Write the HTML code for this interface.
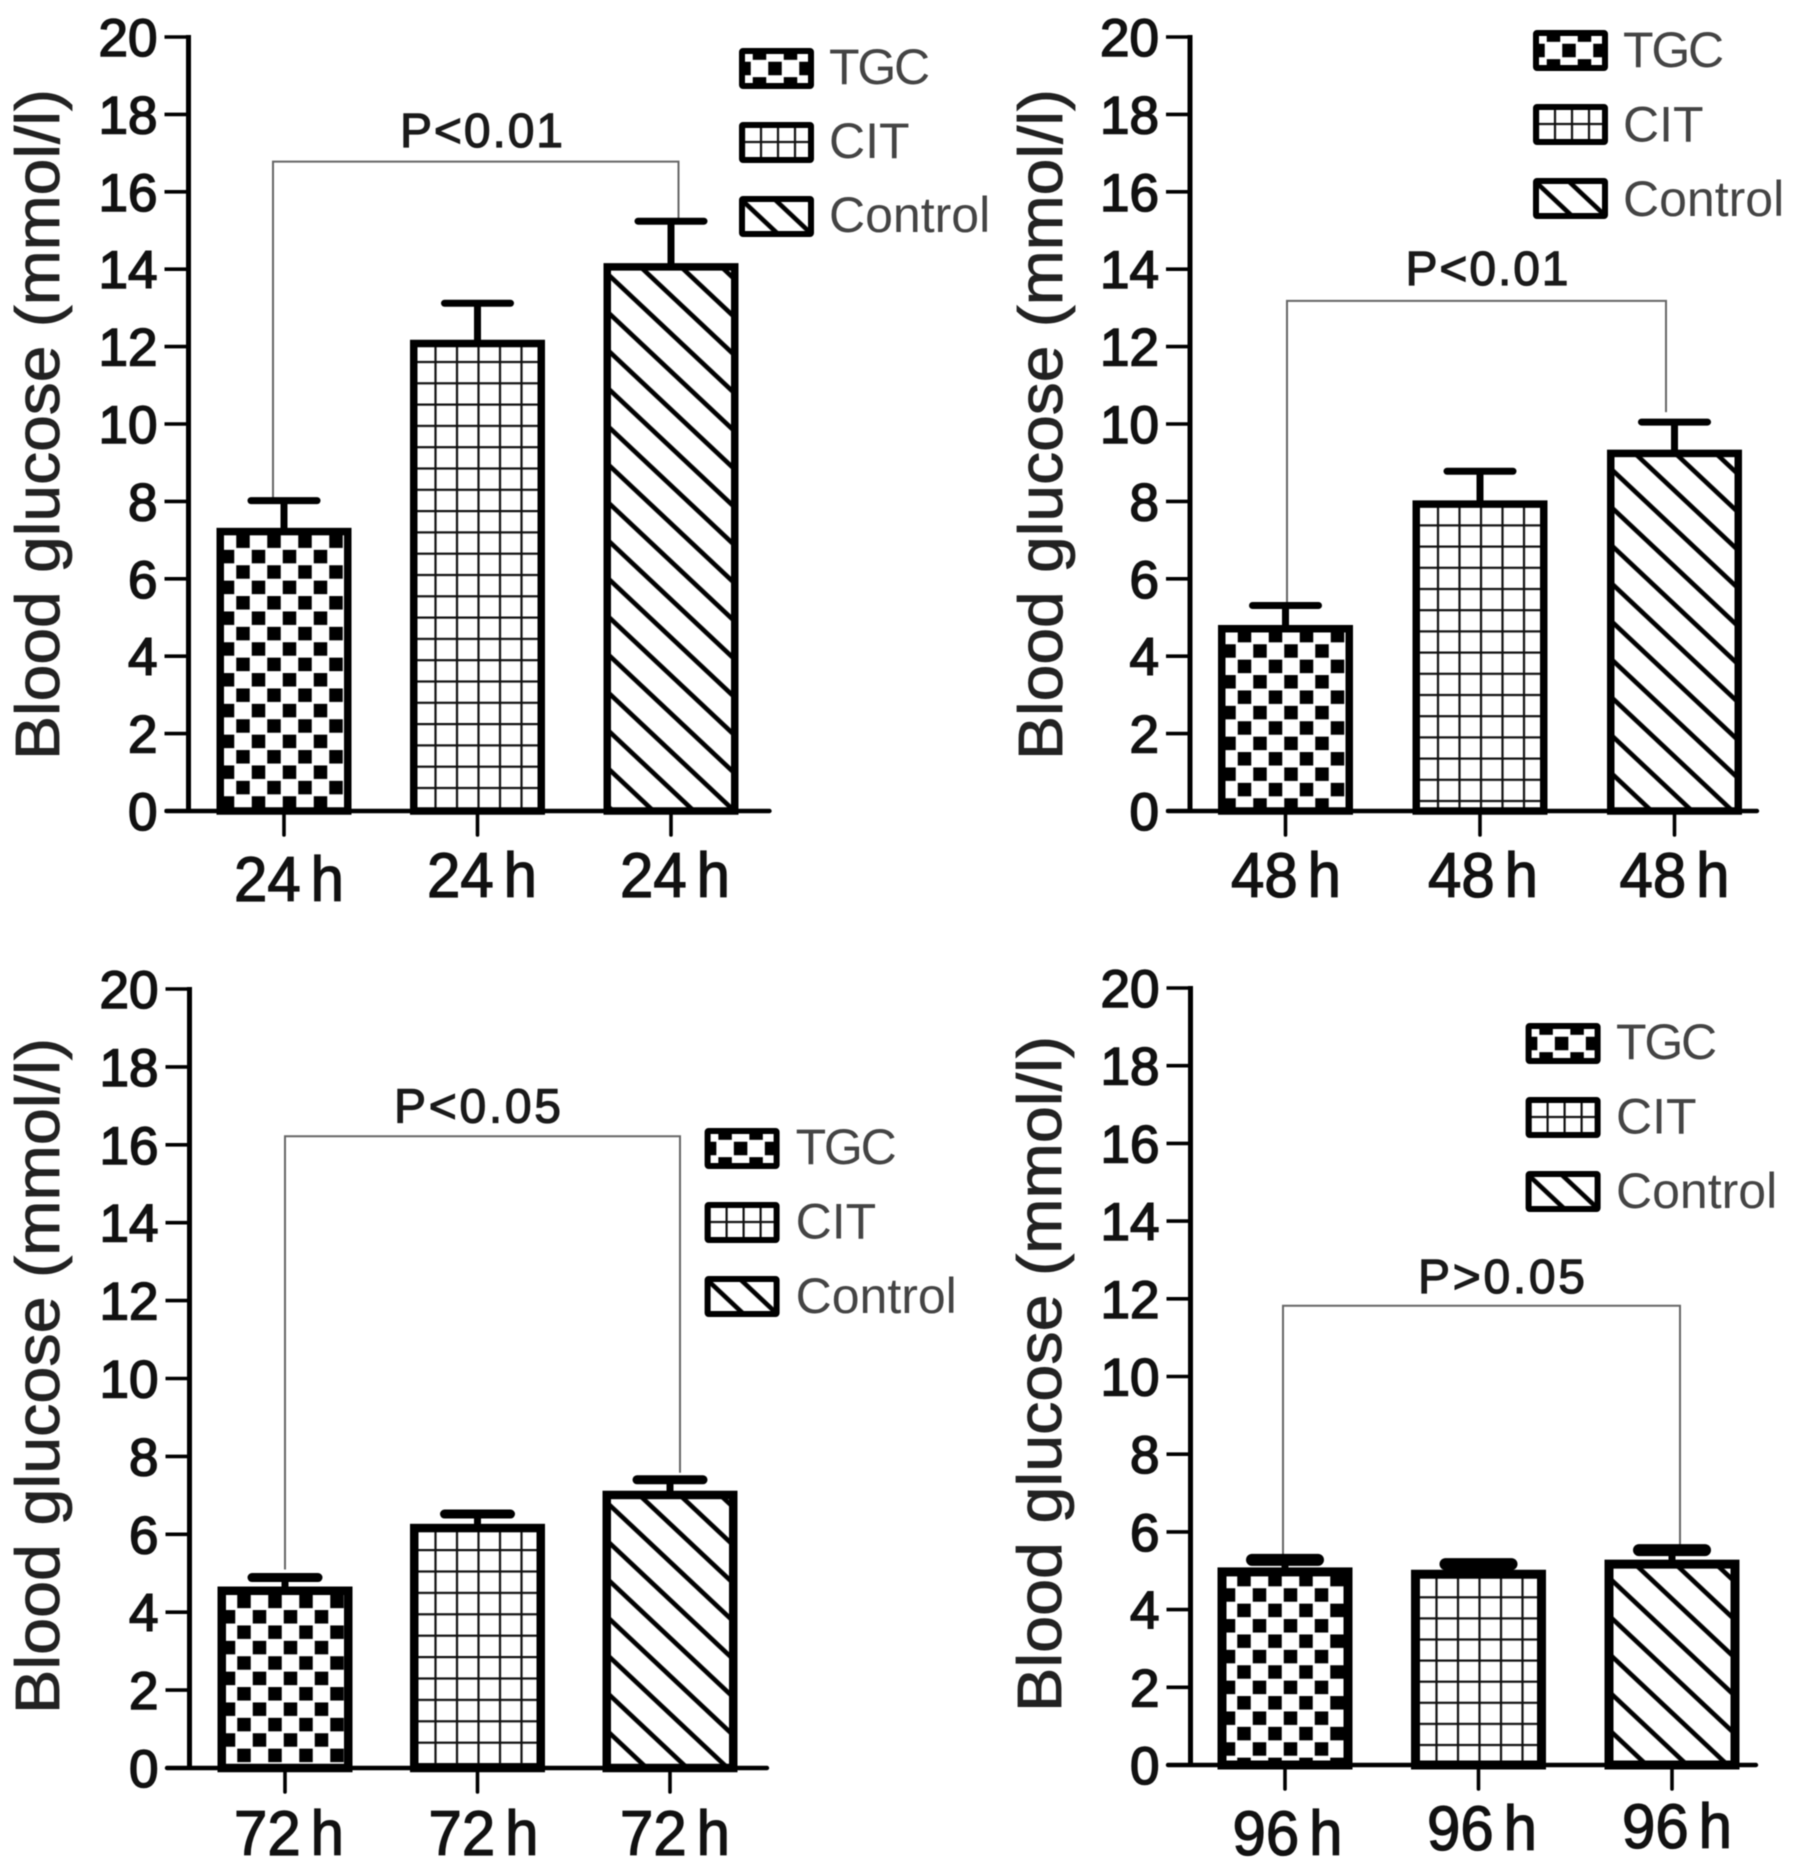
<!DOCTYPE html>
<html lang="en">
<head>
<meta charset="utf-8">
<title>Blood glucose by group at 24, 48, 72 and 96 h</title>
<style>
  html, body { margin: 0; padding: 0; background: #fff; }
  body { width: 1795px; height: 1871px; overflow: hidden; }
  svg { display: block; filter: blur(0.6px); font-family: "Liberation Sans", Arial, sans-serif; }
</style>
</head>
<body>
<svg id="figure" xmlns="http://www.w3.org/2000/svg" width="1795" height="1871" viewBox="0 0 1795 1871">
  <rect width="1795" height="1871" fill="#fff"/>
  <defs id="defs"></defs>
</svg>
<script>
const seriesNames = ['TGC', 'CIT', 'Control'];
const yTickLabels = ['0', '2', '4', '6', '8', '10', '12', '14', '16', '18', '20'];
const yTickValues = [0, 2, 4, 6, 8, 10, 12, 14, 16, 18, 20];
const yAxisTitle = 'Blood glucose (mmol/l)';

const categories24 = ['24 h', '24 h', '24 h'];
const means24 = [7.22, 12.08, 14.06];
const upper24 = [8.02, 13.12, 15.24];
const bracketLevel24 = 16.78;
const pLabel24 = 'P<0.01';

const categories48 = ['48 h', '48 h', '48 h'];
const means48 = [4.71, 7.93, 9.24];
const upper48 = [5.31, 8.78, 10.05];
const bracketLevel48 = 13.18;
const pLabel48 = 'P<0.01';

const categories72 = ['72 h', '72 h', '72 h'];
const means72 = [4.55, 6.16, 7.01];
const upper72 = [4.89, 6.52, 7.4];
const bracketLevel72 = 16.22;
const pLabel72 = 'P<0.05';

const categories96 = ['96 h', '96 h', '96 h'];
const means96 = [4.97, 4.91, 5.17];
const upper96 = [5.28, 5.17, 5.53];
const bracketLevel96 = 11.82;
const pLabel96 = 'P>0.05';

const SVGNS = 'http://www.w3.org/2000/svg';
const svg = document.getElementById('figure');
const defs = document.getElementById('defs');

function mk(parent, tag, attrs, text) {
  const el = document.createElementNS(SVGNS, tag);
  for (const k in attrs) el.setAttribute(k, attrs[k]);
  if (text !== undefined) el.textContent = text;
  parent.appendChild(el);
  return el;
}

function makeCheck(id, xA, yA) {
  const p = mk(defs, 'pattern', { id: id, patternUnits: 'userSpaceOnUse', width: 31, height: 30.8,
    patternTransform: 'translate(' + (xA - 6.75) + ',' + (yA - 6.75) + ')' });
  mk(p, 'rect', { x: 0, y: 0, width: 13.5, height: 13.5, fill: '#000' });
  mk(p, 'rect', { x: 15.5, y: 15.4, width: 13.5, height: 13.5, fill: '#000' });
}
function makeGrid(id, xA, yA, xp, yp) {
  const p = mk(defs, 'pattern', { id: id, patternUnits: 'userSpaceOnUse', width: xp, height: yp,
    patternTransform: 'translate(' + (xA - 1.1) + ',' + (yA - 1.1) + ')' });
  mk(p, 'rect', { x: 0, y: 0, width: 2.2, height: yp, fill: '#111' });
  mk(p, 'rect', { x: 0, y: 0, width: xp, height: 2.2, fill: '#111' });
}
function makeHatch(id, x0, y0, period) {
  const p = mk(defs, 'pattern', { id: id, patternUnits: 'userSpaceOnUse', width: 10, height: period,
    patternTransform: 'translate(' + x0 + ',' + y0 + ') rotate(43.2)' });
  mk(p, 'rect', { x: 0, y: -2.3, width: 10, height: 4.6, fill: '#000' });
  mk(p, 'rect', { x: 0, y: period - 2.3, width: 10, height: 4.6, fill: '#000' });
}

function drawPanel(cfg) {
  const tag = cfg.tag;
  const g = mk(svg, 'g', {});
  
  

  const yScale = v => cfg.y0 - v * (cfg.y0 - cfg.y20) / 20;
  const xBand = i => cfg.cx0 + i * cfg.step;
  const barW = 135;

  makeCheck('check-' + tag, xBand(0) - barW / 2 + 11, cfg.checkRow);
  makeGrid('grid-' + tag, xBand(1) - barW / 2 + 25.5, cfg.gridRow, 21.5, cfg.gridStep);
  makeHatch('hatch-' + tag, xBand(2) - barW / 2 + 7, cfg.hatchRow, 27.7);
  const fills = ['check-' + tag, 'grid-' + tag, 'hatch-' + tag];

  // significance bracket
  const bx0 = xBand(0) + cfg.bracketDx[0];
  const bx1 = xBand(2) + cfg.bracketDx[1];
  const bracket = mk(g, 'path', {
    d: 'M' + bx0 + ' ' + (yScale(cfg.upper[0]) - cfg.bracketGap[0]) + 'V' + yScale(cfg.level) + 'H' + bx1 + 'V' + (yScale(cfg.upper[2]) - cfg.bracketGap[1]),
    fill: 'none', stroke: '#666', 'stroke-width': 2 });
  
  

  const pText = mk(g, 'text', { x: cfg.pX, y: cfg.pY, 'font-size': 48, fill: '#1a1a1a', stroke: '#1a1a1a', 'stroke-width': 1.2,
    textLength: cfg.pWidth, lengthAdjust: 'spacing' }, cfg.pLabel);
  
  

  // bars and error bars
  for (let i = 0; i < cfg.means.length; i++) {
    const s = cfg.barStroke;
    const top = yScale(cfg.means[i]);
    const left = xBand(i) - barW / 2 + s / 2;

    const stem = mk(g, 'line', { x1: xBand(i), x2: xBand(i), y1: yScale(cfg.upper[i]), y2: top, stroke: '#000', 'stroke-width': 7 });
    
    

    const cap = mk(g, 'line', { x1: xBand(i) - 33, x2: xBand(i) + 33, y1: yScale(cfg.upper[i]), y2: yScale(cfg.upper[i]),
      stroke: '#000', 'stroke-width': cfg.capStroke, 'stroke-linecap': 'round' });
    
    

    const bar = mk(g, 'rect', { x: left, y: top, width: barW - s, height: cfg.y0 - top,
      fill: 'url(#' + fills[i] + ')', stroke: '#000', 'stroke-width': s });
    
    

    const xt = mk(g, 'line', { x1: xBand(i), x2: xBand(i), y1: cfg.y0, y2: cfg.y0 + 24, stroke: '#000', 'stroke-width': 3.6, 'stroke-linecap': 'round' });
    
    

    const lab = mk(g, 'text', { x: xBand(i) + cfg.labelDx[i] - 55, y: cfg.labelY[i], 'font-size': 63, fill: '#111', stroke: '#111', 'stroke-width': 1.3,
      style: 'word-spacing:-7px', textLength: 110, lengthAdjust: 'spacingAndGlyphs' }, cfg.categories[i]);
    
    
  }

  // axes
  const yAxis = mk(g, 'line', { x1: cfg.axisX, x2: cfg.axisX, y1: cfg.y20 - 2, y2: cfg.y0, stroke: '#000', 'stroke-width': 5 });
  
  

  const xAxis = mk(g, 'line', { x1: cfg.xAxisFrom, x2: cfg.xAxisTo, y1: cfg.y0, y2: cfg.y0, stroke: '#000', 'stroke-width': 4.4, 'stroke-linecap': 'round' });
  
  

  for (let i = 0; i < yTickValues.length; i++) {
    const yy = yScale(yTickValues[i]);
    const t = mk(g, 'line', { x1: cfg.axisX - 24, x2: cfg.axisX, y1: yy, y2: yy, stroke: '#000', 'stroke-width': 3.6 });
    
    

    const tl = mk(g, 'text', { x: cfg.axisX - 31, y: yy + 19, 'font-size': 53, 'text-anchor': 'end', fill: '#111', stroke: '#111', 'stroke-width': 1.6 }, yTickLabels[i]);
    
    
  }

  const title = mk(g, 'text', { transform: 'translate(' + cfg.titleX + ',' + cfg.titleBottom + ') rotate(-90)', x: 0, y: 0, 'font-size': 62,
    fill: '#222', stroke: '#222', 'stroke-width': 0.8, textLength: cfg.titleBottom - cfg.titleTop, lengthAdjust: 'spacingAndGlyphs' }, yAxisTitle);
  
  

  // legend
  const lg = cfg.legend;
  makeCheck('lg-check-' + tag, lg.x + 36, lg.top + 20.5);
  makeGrid('lg-grid-' + tag, lg.x + 22, lg.top + lg.step + 20, 17, 60);
  makeHatch('lg-hatch-' + tag, lg.x + 6, lg.top + 2 * lg.step + 7, 23);
  const lgFills = ['lg-check-' + tag, 'lg-grid-' + tag, 'lg-hatch-' + tag];
  for (let i = 0; i < seriesNames.length; i++) {
    const sw = mk(g, 'rect', { x: lg.x + 3, y: lg.top + i * lg.step + 3, width: 69, height: 35,
      fill: 'url(#' + lgFills[i] + ')', stroke: '#000', 'stroke-width': 6, rx: 1 });
    
    

    const lt = mk(g, 'text', { x: lg.textX, y: lg.textY + i * lg.textStep, 'font-size': 50, fill: '#444',
      style: i === 0 ? 'letter-spacing:-2.2px' : '' }, seriesNames[i]);
    
    
  }
}

drawPanel({ tag: '24', categories: categories24, means: means24, upper: upper24, level: bracketLevel24, pLabel: pLabel24,
  y0: 811, y20: 37, cx0: 284, step: 193.5, axisX: 188.5, xAxisFrom: 166.5, xAxisTo: 769.5,
  barStroke: 7.5, capStroke: 7, bracketDx: [-11, 7.5], bracketGap: [0, 0], pX: 400, pY: 147, pWidth: 163,
  checkRow: 803, gridRow: 788, gridStep: 21.3, hatchRow: 276.7,
  labelDx: [5, 4.5, 4], labelY: [901, 897, 897], titleX: 59, titleTop: 89, titleBottom: 760,
  legend: { x: 739, top: 48, step: 74, textX: 829, textY: 84, textStep: 74 } });

drawPanel({ tag: '48', categories: categories48, means: means48, upper: upper48, level: bracketLevel48, pLabel: pLabel48,
  y0: 811, y20: 37, cx0: 1285.5, step: 194.5, axisX: 1190, xAxisFrom: 1168, xAxisTo: 1757,
  barStroke: 7.5, capStroke: 7, bracketDx: [1.5, -8.5], bracketGap: [0, 10], pX: 1405.5, pY: 285, pWidth: 163,
  checkRow: 805, gridRow: 801, gridStep: 21.2, hatchRow: 471.7,
  labelDx: [0.5, 3, 0], labelY: [897, 897, 897], titleX: 1062, titleTop: 89, titleBottom: 760,
  legend: { x: 1533, top: 30, step: 74, textX: 1623, textY: 67, textStep: 74.5 } });

drawPanel({ tag: '72', categories: categories72, means: means72, upper: upper72, level: bracketLevel72, pLabel: pLabel72,
  y0: 1768, y20: 989, cx0: 285, step: 192.5, axisX: 189.5, xAxisFrom: 167, xAxisTo: 767,
  barStroke: 8.5, capStroke: 9, bracketDx: [0, 10], bracketGap: [8, 7], pX: 394, pY: 1122.5, pWidth: 167,
  checkRow: 1740, gridRow: 1742.7, gridStep: 21.4, hatchRow: 1505,
  labelDx: [4, 6, 5], labelY: [1855, 1855, 1855], titleX: 59, titleTop: 1038, titleBottom: 1714,
  legend: { x: 704.6, top: 1128, step: 74, textX: 795.6, textY: 1164, textStep: 74.5 } });

drawPanel({ tag: '96', categories: categories96, means: means96, upper: upper96, level: bracketLevel96, pLabel: pLabel96,
  y0: 1765, y20: 988, cx0: 1285, step: 193.5, axisX: 1190.5, xAxisFrom: 1168, xAxisTo: 1756,
  barStroke: 9, capStroke: 12, bracketDx: [-2, 8], bracketGap: [0, 0], pX: 1418, pY: 1293, pWidth: 167,
  checkRow: 1749, gridRow: 1745, gridStep: 21.1, hatchRow: 1580,
  labelDx: [2.5, 3.5, 5], labelY: [1855, 1850, 1848], titleX: 1061, titleTop: 1036, titleBottom: 1712,
  legend: { x: 1525.6, top: 1023, step: 74, textX: 1616, textY: 1059, textStep: 74.5 } });
</script>
</body>
</html>
